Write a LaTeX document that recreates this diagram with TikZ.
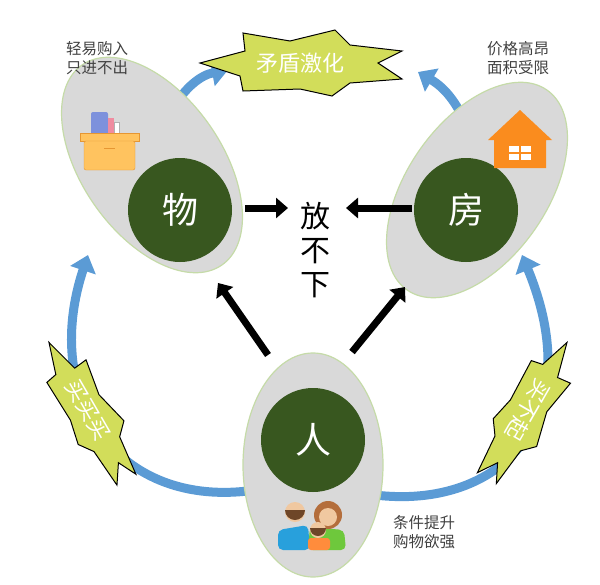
\documentclass[tikz,border=0pt]{standalone}
\usepackage{fontspec}
\newfontfamily\cjk{Noto Sans CJK SC}
\usetikzlibrary{arrows.meta}
\definecolor{ellfill}{HTML}{D9D9D9}
\definecolor{ellline}{HTML}{C5DBA8}
\definecolor{dgreen}{HTML}{38571F}
\definecolor{blu}{HTML}{5B9BD5}
\definecolor{ylw}{HTML}{D2DD5A}
\definecolor{txtgray}{HTML}{404040}
\definecolor{bookb}{RGB}{125,145,220}
\definecolor{bookp}{RGB}{240,140,160}
\definecolor{boxf}{RGB}{255,195,95}
\definecolor{boxd}{RGB}{230,150,50}
\definecolor{shirtb}{RGB}{40,160,220}
\definecolor{shirtg}{RGB}{110,200,60}
\definecolor{skin}{RGB}{240,200,160}
\definecolor{hairb}{RGB}{110,70,40}
\definecolor{hairw}{RGB}{180,110,60}
\definecolor{kid}{RGB}{255,140,60}
\definecolor{house}{RGB}{250,140,30}
\tikzset{
  ell/.style={fill=ellfill,draw=ellline,line width=1.2pt},
  core/.style={circle,fill=dgreen,minimum size=104pt,text=white,font=\cjk\fontsize{36}{36}\selectfont},
  blk/.style={line width=7pt,-{Triangle[length=12pt,width=20pt]}},
  bluarr/.style={blu,line width=9pt,-{Triangle[length=16pt,width=26pt]}},
  burst/.style={fill=ylw,draw=black,line width=1pt},
  bt/.style={text=white,font=\cjk\fontsize{22}{22}\selectfont},
  note/.style={text=txtgray,font=\cjk\fontsize{15.5}{19}\selectfont,align=center}
}
\newcommand{\burstpath}{(-100,0)--(-55,-12)--(-57,-30)--(-10,-22)--(35,-33)--(50,-18)--(102,-12)--(78,0)--(102,16)--(50,20)--(32,33)--(0,26)--(-57,28)--(-60,13)--cycle}
\begin{document}
\begin{tikzpicture}[x=1pt,y=-1pt]
\useasboundingbox (0,0) rectangle (600,584);
% blue arrows
\draw[bluarr] (172,110) to[bend left=25] (228,70);
\draw[bluarr] (470,135) to[bend right=20] (418,72);
\draw[bluarr] (255,490) .. controls (120,510) and (40,400) .. (88,255);
\draw[bluarr] (375,495) .. controls (500,510) and (590,420) .. (522,255);
% ellipses
\draw[ell, rotate around={-55:(152,165)}] (152,165) ellipse [x radius=122,y radius=70];
\draw[ell, rotate around={55:(477,190)}] (477,190) ellipse [x radius=122,y radius=70];
\draw[ell] (313,465) ellipse [x radius=70,y radius=112];
% cores
\node[core] (wu) at (180,210) {物};
\node[core] (fang) at (466,210) {房};
\node[core] (ren) at (313,440) {人};
\node[font=\cjk\fontsize{30}{34}\selectfont,align=center] (fbx) at (315,250) {放\\不\\下};
\coordinate (wuR) at (245,208); \coordinate (fbL) at (288,208);
\coordinate (fgL) at (412,208); \coordinate (fbR) at (346,208);
\draw[blk] (wuR) -- (fbL);
\draw[blk] (fgL) -- (fbR);
\coordinate (rl) at (268,355); \coordinate (wl) at (218,283);
\coordinate (rr) at (352,352); \coordinate (fr) at (405,287);
\draw[blk] (rl) -- (wl);
\draw[blk] (rr) -- (fr);
% bursts
\begin{scope}[shift={(300,63)}]
 \draw[burst] \burstpath;
 \node[bt] (t1) at (0,0) {矛盾激化};
\end{scope}
\begin{scope}[shift={(88,410)},rotate=-60,scale=0.78]
 \draw[burst] \burstpath;
\end{scope}
\node[bt,rotate=-60,inner sep=0pt] (t2) at (88,410) {买买买};
\begin{scope}[shift={(528,410)},rotate=-120,scale=0.78]
 \draw[burst] \burstpath;
\end{scope}
\node[bt,rotate=-120,inner sep=0pt] (t3) at (528,410) {买不起};
% notes
\node[note] (n1) at (97,58) {轻易购入\\只进不出};
\node[note] (n2) at (518,58) {价格高昂\\面积受限};
\node[note] (n3) at (424,532) {条件提升\\购物欲强};
% box icon
\fill[bookb,rounded corners=2pt] (91,112) rectangle (108,135);
\fill[bookp] (108,118) rectangle (114,135);
\draw[fill=white,draw=black!30] (114,122) rectangle (119,135);
\draw[fill=boxf,draw=boxd] (80,133) rectangle (139,141);
\draw[fill=boxf,draw=boxd,rounded corners=2pt] (84,141) rectangle (135,170);
\draw[boxd,line width=1pt] (104,148) -- (115,148);
% house icon
\fill[house] (488,140) -- (520,110) -- (552,140) -- (546,140) -- (546,168) -- (494,168) -- (494,140) -- cycle;
\fill[white] (509,146) rectangle (531,160);
\draw[house,line width=1.5pt] (520,146) -- (520,160) (509,153) -- (531,153);
% family icon
\fill[shirtb,rounded corners=5pt] (278,550) -- (278,530) -- (308,525) -- (310,550) -- cycle;
\fill[shirtg,rounded corners=5pt] (308,550) -- (310,527) -- (344,530) -- (346,550) -- cycle;
\fill[skin] (295,512) circle (10);
\fill[hairb] (285,510) arc[start angle=180,end angle=0,radius=10] -- cycle;
\fill[hairw] (328,515) circle (14);
\fill[skin] (328,517) circle (9);
\fill[kid,rounded corners=3pt] (308,550) rectangle (330,538);
\fill[skin] (318,530) circle (8);
\fill[hairb] (310,528) arc[start angle=180,end angle=0,radius=8] -- cycle;
\end{tikzpicture}
\end{document}
